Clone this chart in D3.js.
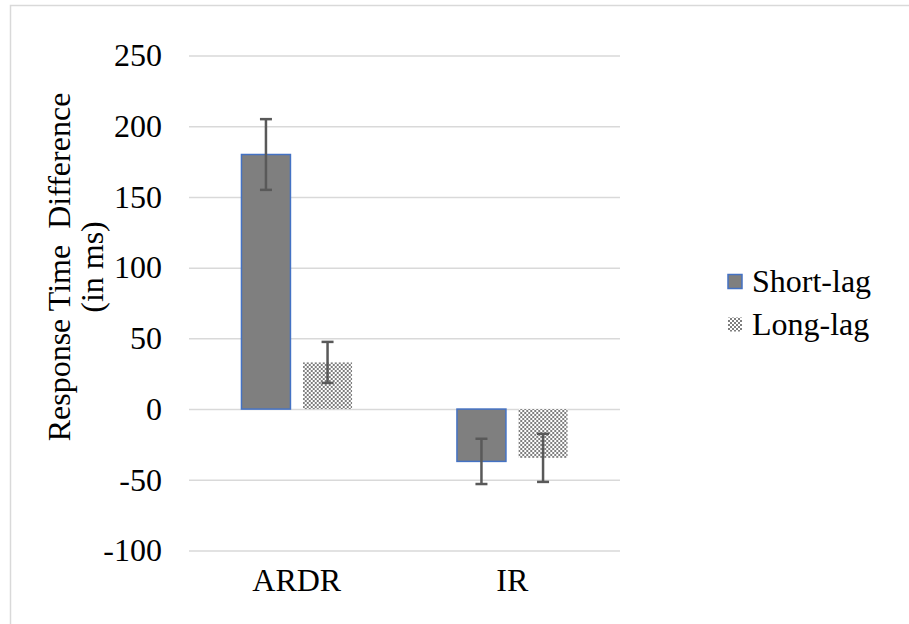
<!DOCTYPE html>
<html>
<head>
<meta charset="utf-8">
<script src="https://cdn.jsdelivr.net/npm/d3@7"></script>
<style>
  html, body { margin: 0; padding: 0; background: #fff; }
  svg text { font-family: "Liberation Serif", "Times New Roman", serif; fill: #000; }
</style>
</head>
<body>
<svg id="chart" width="909" height="624"></svg>
<script>
// Response time differences by condition and lag
const categories = ["ARDR", "IR"];
const seriesNames = ["Short-lag", "Long-lag"];
const shortLag = [180, -37];
const longLag = [33, -34.5];
const shortLagErr = [25, 16];
const longLagErr = [14.5, 17];
const yTicks = [-100, -50, 0, 50, 100, 150, 200, 250];

const FONT = "Liberation Serif, Times New Roman, serif";
const svg = d3.select("#chart");

// checkerboard fill for the long-lag bars
const defs = svg.append("defs");
const pat = defs.append("pattern")
  .attr("id", "checker").attr("patternUnits", "userSpaceOnUse")
  .attr("width", 4).attr("height", 4);
pat.append("rect").attr("width", 4).attr("height", 4).attr("fill", "#ffffff");
pat.append("rect").attr("x", 0).attr("y", 0).attr("width", 2).attr("height", 2).attr("fill", "#7f7f7f");
pat.append("rect").attr("x", 2).attr("y", 2).attr("width", 2).attr("height", 2).attr("fill", "#7f7f7f");

// outer frame
svg.append("rect")
  .attr("x", 10.5).attr("y", 5.5).attr("width", 920).attr("height", 640)
  .attr("fill", "none").attr("stroke", "#d9d9d9").attr("stroke-width", 1.5);

const plot = { left: 189, right: 620, top: 55.5, bottom: 550.5 };

const y = d3.scaleLinear().domain([-100, 250]).range([plot.bottom, plot.top]);
const x0 = d3.scaleBand().domain(categories).range([plot.left, plot.right]);

// gridlines + tick labels
const yAxis = d3.axisLeft(y).tickValues(yTicks)
  .tickFormat(d => String(d))
  .tickSize(-(plot.right - plot.left)).tickPadding(27);
const gy = svg.append("g").attr("transform", `translate(${plot.left},0)`).call(yAxis);
gy.select(".domain").remove();
gy.selectAll(".tick line").attr("stroke", "#d9d9d9").attr("stroke-width", 1.5);
gy.selectAll(".tick text")
  .attr("font-size", 32).attr("font-family", FONT).attr("fill", "#000");

// category labels
const xAxis = d3.axisBottom(x0).tickSize(0).tickPadding(18);
const gx = svg.append("g").attr("transform", `translate(0,${plot.bottom})`).call(xAxis);
gx.select(".domain").remove();
gx.selectAll(".tick text")
  .attr("font-size", 32).attr("font-family", FONT).attr("fill", "#000");

// bar positions inside each band
const barW = 49, gap = 12.6;
const x1 = d3.scaleOrdinal().domain(seriesNames)
  .range([-(barW + gap / 2), gap / 2]);

const rows = categories.map((c, i) => ({
  cat: c,
  values: [
    { s: "Short-lag", v: shortLag[i], e: shortLagErr[i] },
    { s: "Long-lag", v: longLag[i], e: longLagErr[i] }
  ]
}));

const groups = svg.append("g").selectAll("g").data(rows).join("g")
  .attr("transform", d => `translate(${x0(d.cat) + x0.bandwidth() / 2},0)`);

groups.selectAll("rect").data(d => d.values).join("rect")
  .attr("x", d => x1(d.s))
  .attr("y", d => y(Math.max(0, d.v)))
  .attr("width", barW)
  .attr("height", d => Math.abs(y(d.v) - y(0)))
  .attr("fill", d => d.s === "Short-lag" ? "#7f7f7f" : "url(#checker)")
  .attr("stroke", d => d.s === "Short-lag" ? "#4472c4" : "none")
  .attr("stroke-width", 1.5);

// error bars
const eb = groups.selectAll("g.err").data(d => d.values).join("g").attr("class", "err")
  .attr("stroke", "#595959").attr("stroke-width", 2.5);
eb.append("line")
  .attr("x1", d => x1(d.s) + barW / 2).attr("x2", d => x1(d.s) + barW / 2)
  .attr("y1", d => y(d.v + d.e)).attr("y2", d => y(d.v - d.e));
eb.append("line")
  .attr("x1", d => x1(d.s) + barW / 2 - 6).attr("x2", d => x1(d.s) + barW / 2 + 6)
  .attr("y1", d => y(d.v + d.e)).attr("y2", d => y(d.v + d.e));
eb.append("line")
  .attr("x1", d => x1(d.s) + barW / 2 - 6).attr("x2", d => x1(d.s) + barW / 2 + 6)
  .attr("y1", d => y(d.v - d.e)).attr("y2", d => y(d.v - d.e));

// y-axis title (two lines)
const title = svg.append("text")
  .attr("transform", `translate(0,267) rotate(-90)`)
  .attr("text-anchor", "middle").attr("font-size", 32).attr("font-family", FONT)
  .style("white-space", "pre");
title.append("tspan").attr("x", 0).attr("y", 70).text("Response Time  Difference");
title.append("tspan").attr("x", 0).attr("y", 103).text("(in ms)");

// legend
const legend = svg.append("g").attr("transform", "translate(728,0)");
const legY = [281.5, 324.5];
seriesNames.forEach((s, i) => {
  legend.append("rect")
    .attr("x", 0).attr("y", legY[i] - 7).attr("width", 14).attr("height", 14)
    .attr("fill", s === "Short-lag" ? "#7f7f7f" : "url(#checker)")
    .attr("stroke", s === "Short-lag" ? "#4472c4" : "none").attr("stroke-width", 1.5);
  legend.append("text")
    .attr("x", 24).attr("y", legY[i] + 10.5)
    .attr("font-size", 32).attr("font-family", FONT).text(s);
});
</script>
</body>
</html>
